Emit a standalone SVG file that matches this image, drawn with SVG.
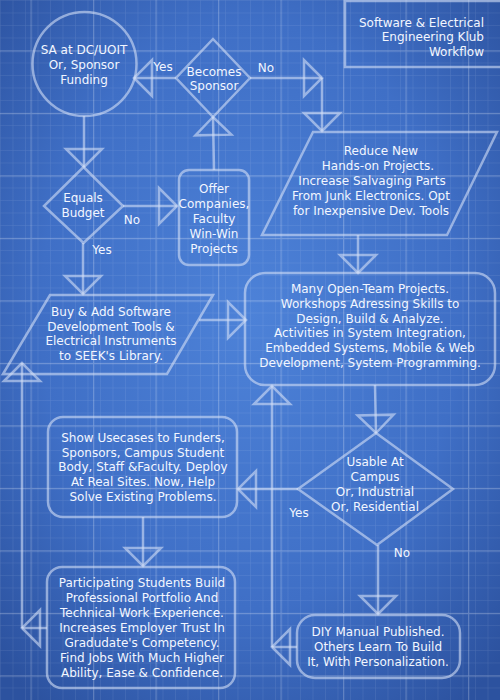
<svg xmlns="http://www.w3.org/2000/svg" width="500" height="700" viewBox="0 0 500 700">
<defs>
<radialGradient id="bg" cx="50%" cy="45%" r="70%">
<stop offset="0" stop-color="#4d82d8"/>
<stop offset="0.6" stop-color="#3f6fc6"/>
<stop offset="1" stop-color="#2c529f"/>
</radialGradient>
<pattern id="minor" width="12.5" height="12.5" patternUnits="userSpaceOnUse">
<path d="M0,0 H12.5 M0,0 V12.5" fill="none" stroke="#ffffff" stroke-opacity="0.13" stroke-width="1"/>
</pattern>
<pattern id="major" width="62.5" height="62.5" patternUnits="userSpaceOnUse" x="-32" y="-12">
<path d="M0,0.5 H62.5 M0.5,0 V62.5" fill="none" stroke="#ffffff" stroke-opacity="0.22" stroke-width="1.5"/>
</pattern>
<marker id="arr" viewBox="-21 -21 24 42" refX="0" refY="0" markerWidth="24" markerHeight="42" markerUnits="userSpaceOnUse" orient="auto" overflow="visible">
<path d="M0,0 L-18,-18 L-18,18 Z" fill="none" stroke="#d4e0f6" stroke-opacity="0.6" stroke-width="2.5" stroke-linejoin="miter"/>
</marker>
<style>
.shape{fill:none;stroke:#d4e0f6;stroke-opacity:0.6;stroke-width:2.5}
.conn line{stroke:#d4e0f6;stroke-opacity:0.6;stroke-width:2.5;marker-end:url(#arr)}
text{font-family:"DejaVu Sans","Liberation Sans",sans-serif;font-size:12px;fill:#f2f6ff;text-anchor:middle}
.r{text-anchor:end}
</style>
</defs>
<rect width="500" height="700" fill="url(#bg)"/>
<rect width="500" height="700" fill="url(#minor)"/>
<rect width="500" height="700" fill="url(#major)"/>

<g id="connectors" class="conn">
<line x1="176" y1="78" x2="134" y2="78"/>
<line x1="250" y1="78" x2="322" y2="78"/>
<line x1="322" y1="78" x2="322" y2="131"/>
<line x1="84" y1="116" x2="84" y2="167"/>
<line x1="123" y1="206" x2="177" y2="206"/>
<line x1="214" y1="170" x2="213" y2="117"/>
<line x1="83" y1="243" x2="83" y2="294"/>
<line x1="199" y1="320" x2="246" y2="320"/>
<line x1="358" y1="235" x2="358" y2="273"/>
<line x1="375" y1="385" x2="376" y2="433"/>
<line x1="298" y1="489" x2="238" y2="489"/>
<line x1="143" y1="517" x2="143" y2="566"/>
<line x1="47" y1="628" x2="22" y2="628"/>
<line x1="22" y1="628" x2="22" y2="363"/>
<line x1="378" y1="545" x2="378" y2="614"/>
<line x1="297" y1="647" x2="272" y2="647"/>
<line x1="272" y1="647" x2="272" y2="386"/>
<text x="163" y="71">Yes</text>
<text x="266" y="72">No</text>
<text x="132" y="224">No</text>
<text x="102" y="254">Yes</text>
<text x="299" y="517">Yes</text>
<text x="402" y="557">No</text>
</g>

<g id="title">
<rect class="shape" x="345" y="1" width="170" height="66"/>
<text class="r" x="484" y="27">Software &amp; Electrical</text>
<text class="r" x="484" y="41">Engineering Klub</text>
<text class="r" x="484" y="56">Workflow</text>
</g>

<g id="funding">
<circle class="shape" cx="84.5" cy="64" r="52"/>
<text x="84" y="54">SA at DC/UOIT</text>
<text x="84" y="69">Or, Sponsor</text>
<text x="84" y="84">Funding</text>
</g>

<g id="becomes-sponsor">
<polygon class="shape" points="213,39 250,78 213,117 176,78"/>
<text x="214" y="76">Becomes</text>
<text x="214" y="90">Sponsor</text>
</g>

<g id="equals-budget">
<polygon class="shape" points="83.5,167 123,206 83.5,243 44,206"/>
<text x="83" y="202">Equals</text>
<text x="83" y="217">Budget</text>
</g>

<g id="offer">
<rect class="shape" x="179" y="170" width="70" height="95" rx="10"/>
<text x="214" y="193">Offer</text>
<text x="214" y="208">Companies,</text>
<text x="214" y="223">Faculty</text>
<text x="214" y="238">Win-Win</text>
<text x="214" y="253">Projects</text>
</g>

<g id="reduce">
<polygon class="shape" points="313,132 497,132 447,235 262,235"/>
<text x="381" y="155">Reduce New</text>
<text x="378" y="170">Hands-on Projects.</text>
<text x="372" y="185">Increase Salvaging Parts</text>
<text x="371" y="200">From Junk Electronics. Opt</text>
<text x="371" y="215">for Inexpensive Dev. Tools</text>
</g>

<g id="buy">
<polygon class="shape" points="50,295 213,295 167,374 3,374"/>
<text x="111" y="316">Buy &amp; Add Software</text>
<text x="111" y="331">Development Tools &amp;</text>
<text x="111" y="345">Electrical Instruments</text>
<text x="111" y="360">to SEEK's Library.</text>
</g>

<g id="projects">
<rect class="shape" x="245" y="273" width="250" height="112" rx="20"/>
<text x="370" y="293">Many Open-Team Projects.</text>
<text x="370" y="308">Workshops Adressing Skills to</text>
<text x="370" y="322.5">Design, Build &amp; Analyze.</text>
<text x="370" y="337">Activities in System Integration,</text>
<text x="370" y="352">Embedded Systems, Mobile &amp; Web</text>
<text x="370" y="367">Development, System Programming.</text>
</g>

<g id="usable">
<polygon class="shape" points="376,433 453,489 377,545 298,489"/>
<text x="375" y="466">Usable At</text>
<text x="375" y="481">Campus</text>
<text x="375" y="496">Or, Industrial</text>
<text x="375" y="511">Or, Residential</text>
</g>

<g id="show">
<rect class="shape" x="48" y="417" width="189" height="100" rx="15"/>
<text x="143" y="442">Show Usecases to Funders,</text>
<text x="143" y="457">Sponsors, Campus Student</text>
<text x="143" y="471">Body, Staff &amp;Faculty. Deploy</text>
<text x="143" y="486">At Real Sites. Now, Help</text>
<text x="143" y="501">Solve Existing Problems.</text>
</g>

<g id="participating">
<rect class="shape" x="47" y="567" width="188" height="121" rx="15"/>
<text x="142" y="587">Participating Students Build</text>
<text x="142" y="602">Professional Portfolio And</text>
<text x="142" y="617">Technical Work Experience.</text>
<text x="142" y="632">Increases Employer Trust In</text>
<text x="142" y="647">Gradudate's Competency.</text>
<text x="142" y="662">Find Jobs With Much Higher</text>
<text x="142" y="677">Ability, Ease &amp; Confidence.</text>
</g>

<g id="diy">
<rect class="shape" x="297" y="615" width="163" height="63" rx="18"/>
<text x="378" y="636">DIY Manual Published.</text>
<text x="378" y="651">Others Learn To Build</text>
<text x="378" y="666">It, With Personalization.</text>
</g>
</svg>
